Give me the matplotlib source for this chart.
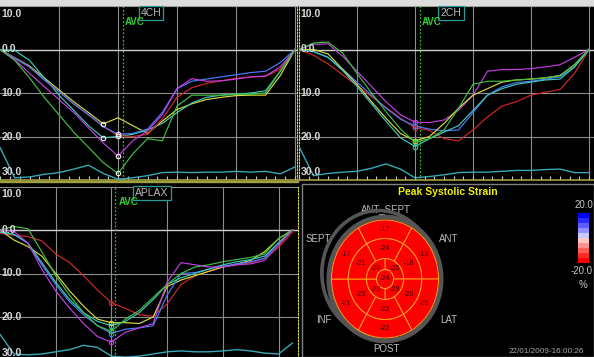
import numpy as np
import matplotlib.pyplot as plt
from matplotlib.patches import Wedge, Ellipse, Circle, Rectangle
from matplotlib.colors import ListedColormap, Normalize
from matplotlib.transforms import blended_transform_factory

plt.rcParams['font.family'] = ['Liberation Sans', 'DejaVu Sans']

W, H = 594, 357

# time in grid divisions (one vertical grid line per division)
t_curve = np.arange(21) * 0.25
t_aplax = np.arange(22) * 0.25

# ---- 4CH strain curves (%) ----
yellow_4ch = [0, -1.9, -3.8, -6.5, -9.3, -12, -14.5, -17.1, -15.7, -17.5, -19.3, -16.5, -13.8, -12.5, -11.5, -11, -10.6, -10.5, -10.5, -6, 0]
teal_4ch = [0, -0.2, -2.5, -6.5, -10.5, -14, -17.5, -20.3, -20, -19.5, -18.5, -17, -14.5, -12.3, -11, -10.5, -10.3, -10, -9.5, -5, 0]
red_4ch = [0, -2, -4, -7, -9.7, -12.5, -15, -17.7, -19.8, -20, -19.5, -16, -11, -8.8, -7.8, -7.2, -6.6, -6.3, -6.2, -4.5, 0]
blue_4ch = [0, -2, -4, -7, -9.7, -12.5, -15, -17.7, -19.5, -19.3, -18.3, -14.5, -9, -7.3, -6.8, -6.3, -5.8, -5.3, -5, -3, 0]
magenta_4ch = [0, -2.3, -5.5, -8.5, -11.5, -14.5, -18, -21.5, -24.5, -21, -18.7, -15, -9, -6.7, -7.3, -7.2, -6.8, -6.3, -6.1, -4, 0]
green_4ch = [0, -2.5, -6.5, -11, -15, -19, -22.5, -26, -28.5, -24, -20.5, -21, -13, -10.5, -10.5, -10.5, -10.3, -10.3, -10, -5, 0]
ecg_4ch = [-22.5, -29.5, -29.3, -28.7, -28.3, -27.5, -26.6, -28.5, -29.8, -29.5, -29, -28.3, -28.2, -28.3, -28.2, -28.2, -28, -28.2, -28, -28.6, -27]

# ---- 2CH strain curves (%) ----
red_2ch = [0, -1.3, -3.3, -5.8, -8.3, -10.8, -13.3, -15.8, -18, -18.6, -20.5, -21, -18.5, -15.5, -13, -12, -10.5, -9.8, -9.2, -5.5, 0]
magenta_2ch = [0, 1.2, 1.3, -1.5, -5, -8.5, -12, -15, -16.7, -16.8, -16.2, -14, -10.5, -5, -4.6, -4.6, -4.4, -4, -3.5, -1.8, 0]
blue_2ch = [0, -0.4, -1.8, -4.5, -7.5, -10.5, -13.5, -16, -17.6, -18.3, -18.7, -18.5, -14.5, -10.5, -8.6, -7.6, -7.3, -6.8, -6.3, -4, 0]
yellow_2ch = [0, 0, -1, -4.5, -8, -12, -15.8, -19.3, -21, -20, -17, -13.5, -10.5, -9, -7.5, -7, -6.8, -6.5, -6, -3.5, 0]
teal_2ch = [0, -0.5, -1.8, -4.8, -8.5, -12.5, -16.5, -20.3, -22.3, -20.5, -19, -17.5, -14, -10.5, -9, -8, -7.5, -7, -6.8, -4, 0]
green_2ch = [0, 1.5, 1.7, -0.8, -5.5, -10, -14.3, -18.3, -21.3, -20.5, -18.5, -13.5, -8, -7.3, -7.3, -7, -6.8, -6.5, -6, -3.5, 0]
ecg_2ch = [-22.3, -29, -28.5, -28.2, -28, -27.3, -26.3, -27.5, -29.5, -29.2, -28.8, -28.3, -28.2, -28.2, -28, -27.8, -27.8, -27.6, -27.5, -28.3, -28.3]

# ---- APLAX strain curves (%) ----
red_aplax = [-0.8, -1.2, -1.5, -2.5, -5.5, -7.5, -10.5, -13.8, -16.7, -18, -19.5, -19.8, -17, -12.5, -10.5, -9.5, -8.5, -8, -7.5, -6.5, -4, -0.5]
yellow_aplax = [0, -2.3, -3.8, -6, -10, -14, -17.5, -20.5, -21.3, -21.3, -21.5, -20, -13, -11.5, -10.5, -9.5, -8.5, -7.8, -7, -5, -2, 0]
blue_aplax = [-0.5, -1, -3, -8, -12.5, -16.5, -19.5, -22, -23.8, -22.8, -22.5, -22, -15, -10, -9.8, -9, -8.3, -7.8, -7.3, -6.5, -3, 0]
teal_aplax = [-0.5, -1, -3, -7.5, -12, -16, -19, -21, -22, -21, -19, -16, -12.5, -11, -10, -9, -8, -7.3, -6.8, -6, -3, 0]
green_aplax = [0, 0.8, 0.3, -5, -10.5, -15, -19, -22, -23.3, -20.5, -18.5, -15.5, -12.5, -10, -8.5, -8, -7.3, -6.8, -6.3, -5.5, -2, 0]
magenta_aplax = [0, -0.3, -3, -9, -14, -18, -21.5, -24.5, -25.8, -23.5, -22.5, -21.5, -12, -7.5, -8, -8.5, -8.5, -8, -7.8, -7, -3.5, 0]
ecg_aplax = [-24, -28.5, -28.7, -28.5, -28, -27.5, -26.5, -27, -29, -29.2, -29, -28.5, -28, -27.8, -28, -28, -27.8, -27.5, -27.8, -28.3, -28.5, -26]

# tick labels as shown on the screen (the minus sign sits off the left edge)
ytick_vals = [10, 0, -10, -20, -30]
ytick_text = ['10.0', '0.0', '10.0', '20.0', '30.0']

# ---- bull's eye (peak systolic strain, %) ----
seg_labels = ['ANT_SEPT', 'ANT', 'LAT', 'POST', 'INF', 'SEPT']
basal = [-17, -18, -26, -22, -21, -17]
mid = [-24, -18, -20, -22, -23, -21]
apical = [-20, -29, -22, -28]
apex = -24
scale_min, scale_max = -20.0, 20.0

colors = {'yellow': '#d8d840', 'teal': '#40c8b8', 'red': '#d02828',
          'blue': '#4a7cff', 'magenta': '#c040e0', 'green': '#40c040'}
ecg_color = '#38a8b8'

fig = plt.figure(figsize=(W / 100, H / 100), dpi=100, facecolor='black')


def px_axes(x0, y0, x1, y1):
    return fig.add_axes([x0 / W, 1 - y1 / H, (x1 - x0) / W, (y1 - y0) / H])


def strain_panel(ax, t, curves, ecg, xmax, avc, marker_white, width_px):
    ax.set_facecolor('black')
    ax.set_xlim(0, xmax)
    ax.set_ylim(-30, 10)
    for gx in range(1, 6):
        ax.axvline(gx, color='#8c8c8c', lw=0.8, zorder=1)
    for gy in [10, -10, -20]:
        ax.axhline(gy, color='#8c8c8c', lw=0.8, zorder=1)
    ax.axhline(0, color='#d0d0d0', lw=1.0, zorder=1)
    ax.axvline(avc, color='#30c030', ls=(0, (1.5, 1.5)), lw=0.9, zorder=2)
    ax.plot(t, ecg, color=ecg_color, lw=1.0, zorder=3)
    for name, vals in curves:
        vals = np.asarray(vals)
        ax.plot(t, vals, color=colors[name], lw=0.85, zorder=4)
        pre = t <= avc
        i = np.argmin(np.where(pre, vals, np.inf))
        mc = '#f0f0f0' if marker_white else colors[name]
        ax.plot(t[i], vals[i], 'o', ms=3.2, mfc='none', mec=mc, mew=0.8, zorder=5)
    tr = blended_transform_factory(ax.transAxes, ax.transData)
    for v, s in zip(ytick_vals, ytick_text):
        va = 'top' if v == 10 else ('bottom' if v == -30 else 'center')
        off = -0.6 if v == 10 else (0.6 if v == -30 else 0)
        ax.text(1.5 / width_px, v + off, s, color='#d8d8d8', fontsize=7.5, fontweight='bold',
                ha='left', va=va, transform=tr, zorder=6)
    ax.set_xticks(np.arange(0, xmax, 1 / 6))
    ax.set_yticks([])
    ax.tick_params(axis='x', direction='in', length=3, color='#c8c8c8',
                   labelbottom=False, width=0.8)
    for sp in ax.spines.values():
        sp.set_visible(False)
    ax.spines['bottom'].set_visible(True)
    ax.spines['bottom'].set_color('#a0a040')
    ax.spines['bottom'].set_linewidth(1.2)


def dotted_edge(ax, side):
    ax.spines[side].set_visible(True)
    ax.spines[side].set_color('#d8d840')
    ax.spines[side].set_linestyle((0, (1.5, 1.5)))


# light strip along the top
fig.patches.append(Rectangle((0, 1 - 5 / H), 1, 5 / H, transform=fig.transFigure,
                             color='#dcdcdc', zorder=0))

# top-left 4CH
ax1 = px_axes(0, 6, 297, 180)
strain_panel(ax1, t_curve,
             [('yellow', yellow_4ch), ('teal', teal_4ch), ('red', red_4ch),
              ('blue', blue_4ch), ('magenta', magenta_4ch), ('green', green_4ch)],
             ecg_4ch, 297 / 59, 2.085, True, 297)
dotted_edge(ax1, 'right')

# top-right 2CH
ax2 = px_axes(299, 6, 594, 180)
strain_panel(ax2, t_curve,
             [('red', red_2ch), ('magenta', magenta_2ch), ('blue', blue_2ch),
              ('yellow', yellow_2ch), ('teal', teal_2ch), ('green', green_2ch)],
             ecg_2ch, 295 / 58, 2.086, False, 295)
dotted_edge(ax2, 'left')

# bottom-left APLAX
ax3 = px_axes(0, 186.5, 298, 360.5)
strain_panel(ax3, t_aplax,
             [('red', red_aplax), ('yellow', yellow_aplax), ('blue', blue_aplax),
              ('teal', teal_aplax), ('green', green_aplax), ('magenta', magenta_aplax)],
             ecg_aplax, 298 / 55.7, 2.07, False, 298)
dotted_edge(ax3, 'right')
fig.patches.append(Rectangle((0, 1 - 182 / H), 298 / W, 1.2 / H, transform=fig.transFigure,
                             color='#a0a040', zorder=0))

# view names and AVC labels
for label, x, y in [('4CH', 151, 13), ('2CH', 451, 13), ('APLAX', 152, 193)]:
    fig.text(x / W, 1 - y / H, label, color='#b8b8b8', fontsize=7.5, ha='center', va='center',
             bbox=dict(facecolor='black', edgecolor='#2a9a9a', boxstyle='square,pad=0.2', lw=0.9))
for x, y in [(125, 22), (422, 22), (119, 202)]:
    fig.text(x / W, 1 - y / H, 'AVC', color='#30d030', fontsize=7, fontweight='bold',
             ha='left', va='center')

# bottom-right panel (pixel coordinates)
axp = px_axes(300, 182, 594, 357)
axp.set_axis_off()
axp.add_patch(Rectangle((301.5, 184), 292, 172.5, fill=False, ec='#808080', lw=1))
axp.text(448, 192, 'Peak Systolic Strain', color='#f0f000', fontsize=7.5, fontweight='bold',
         ha='center', va='center')

cmap = ListedColormap(['#ff0000', '#ff2a2a', '#ff5c5c', '#ff9090', '#ffc8c8',
                       '#c8c8ff', '#9090ff', '#5c5cff', '#2a2aff', '#0000ff'])
norm = Normalize(scale_min, scale_max)
axp.imshow(np.linspace(scale_max, scale_min, 10)[:, None], cmap=cmap, norm=norm,
           extent=[578, 588.5, 263, 213], aspect='auto', interpolation='nearest')
axp.set_xlim(300, 594)
axp.set_ylim(357, 182)
axp.text(583.5, 204.5, f'{scale_max:.1f}', color='#c8c8c8', fontsize=7, ha='center', va='center')
axp.text(582, 271, f'{scale_min:.1f}', color='#c8c8c8', fontsize=7, ha='center', va='center')
axp.text(583, 285, '%', color='#c8c8c8', fontsize=7, ha='center', va='center')

label_pos = [(386, 209), (449, 239), (449, 320), (386, 349), (324, 320), (318, 239)]
for lab, (x, y) in zip(seg_labels, label_pos):
    axp.text(x, y, lab, color='#bcbcbc', fontsize=7, ha='center', va='center')

axp.text(509, 351.5, '22/01/2009-16:00:26', color='#a8a8a8', fontsize=5.9, ha='left',
         va='center')

# bull's eye in unit coordinates
k = 1.3
axb = px_axes(385 - 53.5 * k, 279 - 59 * k, 385 + 53.5 * k, 279 + 59 * k)
axb.set_xlim(-k, k)
axb.set_ylim(-k, k)
axb.set_axis_off()
axb.patch.set_alpha(0)
ring = '#555555'
axb.add_patch(Ellipse((-0.12, 0.1), 2.12, 2.12, fill=False, ec=ring, lw=2.6, zorder=1))
axb.add_patch(Ellipse((0, 0), 2.1, 2.1, fill=False, ec=ring, lw=3.4, zorder=2))

edge = '#ffa020'
txt = '#4a0000'
r_out, r_mid, r_ap, r_cap = 1.0, 0.686, 0.346, 0.16
six = [90, 30, -30, -90, -150, 150]
four = [45, -45, -135, 135]
for vals, r0, r1, rt in [(basal, r_mid, r_out, 0.84), (mid, r_ap, r_mid, 0.52)]:
    for a, v in zip(six, vals):
        axb.add_patch(Wedge((0, 0), r1, a - 30, a + 30, width=r1 - r0,
                            fc=cmap(norm(v)), ec=edge, lw=0.7, zorder=3))
        axb.text(rt * np.cos(np.radians(a)), rt * np.sin(np.radians(a)), str(v),
                 color=txt, fontsize=5.2, ha='center', va='center', zorder=5)
for a, v in zip(four, apical):
    axb.add_patch(Wedge((0, 0), r_ap, a - 45, a + 45, width=r_ap - r_cap,
                        fc=cmap(norm(v)), ec=edge, lw=0.7, zorder=3))
    axb.text(0.25 * np.cos(np.radians(a)), 0.25 * np.sin(np.radians(a)), str(v),
             color=txt, fontsize=5.2, ha='center', va='center', zorder=5)
axb.add_patch(Circle((0, 0), r_cap, fc=cmap(norm(apex)), ec=edge, lw=0.7, zorder=3))
axb.text(0, 0, str(apex), color=txt, fontsize=5.2, ha='center', va='center', zorder=5)

fig.savefig('out.png', dpi=100, facecolor='black')
